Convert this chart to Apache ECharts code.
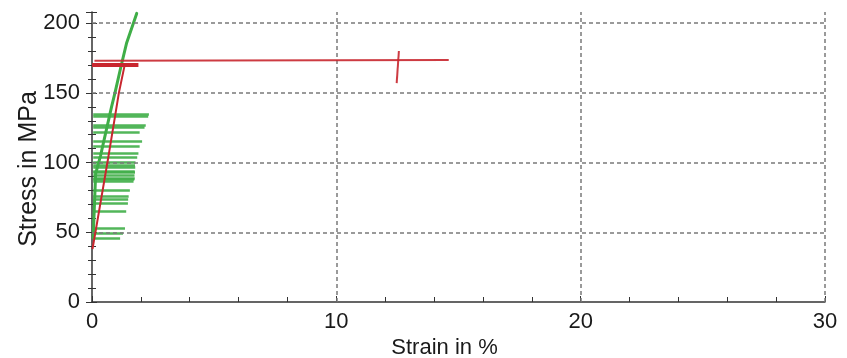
<!DOCTYPE html>
<html>
<head>
<meta charset="utf-8">
<script src="https://cdn.jsdelivr.net/npm/echarts@6/dist/echarts.min.js"></script>
<style>
  html, body { margin: 0; padding: 0; background: #fff; }
  #chart { width: 847px; height: 358px; }
</style>
</head>
<body>
<div id="chart"></div>
<script>
const xTicks = [0, 10, 20, 30]
const yTicks = [0, 50, 100, 150, 200]
const xGrid = [10, 20, 30]
const yGrid = [50, 100, 150, 200]

// red specimen: loading line, plateau, end mark
const redRise = [[0.02, 38], [0.15, 51], [0.65, 102], [1.1, 150], [1.35, 171]]
const redPlateau = [[0.1, 173], [14.6, 173.5]]
const redBand = [[0, 170], [1.9, 170]]
const redMark = [[12.47, 157], [12.56, 180]]

// green specimen: loading line and the load levels it stopped at
const greenRise = [[0.05, 46], [0.1, 70], [0.15, 92], [0.35, 105], [0.8, 140], [0.94, 150], [1.2, 170], [1.42, 186], [1.83, 207]]
const greenLevels = [135, 133, 127, 125, 121.5, 115, 112, 107, 104, 100, 98, 96.4, 94, 92.8, 90.6, 89, 87.8, 86.3, 80.5, 76, 73.4, 70.5, 65, 53, 49.6, 46]
const greenEnds = [2.33, 2.3, 2.2, 2.15, 1.95, 2.05, 1.95, 1.9, 1.85, 1.78, 1.76, 1.77, 1.75, 1.76, 1.74, 1.75, 1.73, 1.7, 1.55, 1.5, 1.48, 1.47, 1.4, 1.35, 1.27, 1.15]

const font = "'Liberation Sans', Arial, sans-serif"
const axisColor = '#333'
const red = '#c8262e'
const green = '#3fae47'

const yBase = {
  type: 'value',
  min: 0,
  max: 208,
  interval: 50,
  position: 'left',
  splitLine: { show: false },
}

const option = {
  animation: false,
  grid: { left: 92, right: 22, top: 12, bottom: 56, outerBoundsMode: 'none', containLabel: false },
  xAxis: {
    type: 'value',
    min: 0,
    max: 30,
    interval: 10,
    name: 'Strain in %',
    nameLocation: 'middle',
    nameGap: 35,
    nameMoveOverlap: false,
    nameTextStyle: { fontFamily: font, fontSize: 22, color: '#1a1a1a', padding: [0, 28, 0, 0] },
    axisLine: { lineStyle: { color: axisColor, width: 1.5 } },
    axisTick: { inside: true, length: 6, lineStyle: { color: axisColor } },
    minorTick: { show: true, splitNumber: 5, length: 5, lineStyle: { color: axisColor } },
    splitLine: { show: false },
    axisLabel: {
      fontFamily: font, fontSize: 22, color: '#1a1a1a', margin: 9,
      formatter: v => (xTicks.includes(v) ? String(v) : ''),
    },
  },
  yAxis: [
    {
      ...yBase,
      name: 'Stress in MPa',
      nameLocation: 'middle',
      nameGap: 50,
      nameMoveOverlap: false,
      nameTextStyle: { fontFamily: font, fontSize: 25, color: '#1a1a1a', padding: [0, 24, 0, 0] },
      axisLine: { lineStyle: { color: axisColor, width: 1.5 } },
      axisTick: { length: 6, lineStyle: { color: axisColor } },
      minorTick: { show: true, splitNumber: 5, length: 4, lineStyle: { color: axisColor } },
      axisLabel: {
        fontFamily: font, fontSize: 22, color: '#1a1a1a', margin: 12,
        formatter: v => (yTicks.includes(v) ? String(v) : ''),
      },
    },
    {
      ...yBase,
      axisLine: { show: false },
      axisTick: { inside: true, length: 5, lineStyle: { color: axisColor } },
      minorTick: { show: true, splitNumber: 5, length: 4, lineStyle: { color: axisColor } },
      axisLabel: { show: false },
    },
  ],
  series: [
    {
      name: 'grid',
      type: 'line',
      data: [],
      z: 1,
      markLine: {
        silent: true,
        symbol: ['none', 'none'],
        label: { show: false },
        lineStyle: { type: [4, 3], color: '#7a7a7a', width: 1.5 },
        data: [
          ...yGrid.map(v => ({ yAxis: v })),
          ...xGrid.map(v => ({ xAxis: v })),
        ],
      },
    },
    {
      name: 'green levels',
      type: 'lines',
      coordinateSystem: 'cartesian2d',
      z: 3,
      lineStyle: { color: green, width: 2.6, opacity: 0.9 },
      data: greenLevels.map((y, i) => ({ coords: [[0.05, y], [greenEnds[i], y]] })),
    },
    {
      name: 'green rise',
      type: 'line',
      z: 4,
      showSymbol: false,
      data: greenRise,
      lineStyle: { color: green, width: 3, cap: 'round' },
    },
    {
      name: 'red band',
      type: 'lines',
      coordinateSystem: 'cartesian2d',
      z: 5,
      lineStyle: { color: red, width: 4, opacity: 1 },
      data: [{ coords: redBand }],
    },
    {
      name: 'red plateau',
      type: 'lines',
      coordinateSystem: 'cartesian2d',
      z: 5,
      lineStyle: { color: red, width: 2, opacity: 0.9 },
      data: [{ coords: redPlateau }, { coords: redMark }],
    },
    {
      name: 'red rise',
      type: 'line',
      z: 6,
      showSymbol: false,
      data: redRise,
      lineStyle: { color: red, width: 2 },
    },
  ],
}

const chart = echarts.init(document.getElementById('chart'), null, { renderer: 'canvas' })
chart.setOption(option)
</script>
</body>
</html>
